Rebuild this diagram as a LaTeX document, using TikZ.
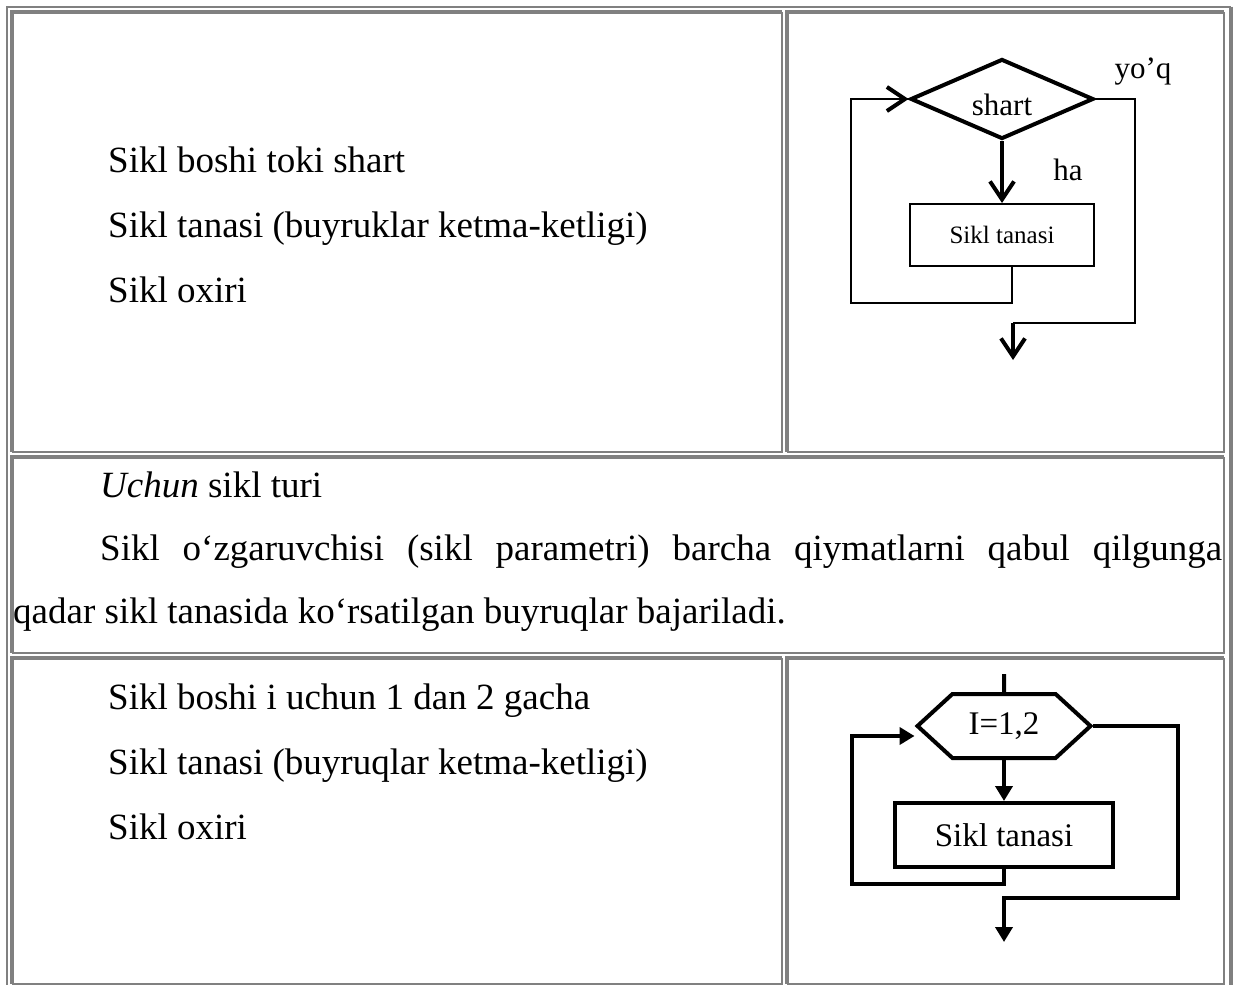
\documentclass[tikz,border=0pt]{standalone}
\usepackage{fontspec}
\setmainfont{Liberation Serif}
\usetikzlibrary{positioning, shapes.geometric, shapes.symbols, arrows.meta}

\definecolor{rulegray}{RGB}{128,128,128}

\begin{document}
\begin{tikzpicture}[x=1pt, y=-1pt,
    txt/.style={anchor=base west, inner sep=0, font=\fontsize{37}{44}\selectfont},
    lbl/.style={inner sep=0, font=\fontsize{31}{36}\selectfont},
    cond/.style={diamond, draw, line width=4pt, minimum width=183pt, minimum height=80pt, inner sep=0},
    smallbox/.style={rectangle, draw, line width=2pt, minimum width=184pt, minimum height=62pt, inner sep=0, font=\fontsize{25}{30}\selectfont},
    hexa/.style={signal, signal to=west and east, signal pointer angle=85, draw, line width=4pt, minimum width=173pt, minimum height=64pt, inner sep=0, font=\fontsize{33}{38}\selectfont},
    bigbox/.style={rectangle, draw, line width=4pt, minimum width=218pt, minimum height=64pt, inner sep=0, font=\fontsize{33}{38}\selectfont},
    thin line/.style={line width=2pt},
    thick line/.style={line width=4pt},
    barb/.style={-{Straight Barb[length=18pt, width=24pt, line width=4pt]}},
    tri/.style={-{Triangle[length=15pt, width=17pt]}}
]
    \useasboundingbox (0,0) rectangle (1234,985);

    % table frame
    \draw[rulegray, line width=2pt] (6.5,985) -- (6.5,6.5) -- (1231,6.5);
    \draw[rulegray, line width=4pt] (1230.5,6.5) -- (1230.5,985);

    % cells: dark top/left, thin bottom/right
    \foreach \xa/\ya/\xb/\yb in {12/12/782/452, 787/12/1224/452, 12/457/1224/653, 12/658/782/983.5, 787/658/1224/983.5} {
        \draw[rulegray, line width=4pt] (\xa,\yb) -- (\xa,\ya) -- (\xb,\ya);
        \draw[rulegray, line width=2pt] (\xb,\ya) -- (\xb,\yb) -- (\xa,\yb);
    }

    % while loop text
    \node[txt] (w1) at (108,172) {Sikl boshi toki shart};
    \node[txt] (w2) at (108,237) {Sikl tanasi (buyruklar ketma-ketligi)};
    \node[txt] (w3) at (108,302) {Sikl oxiri};

    % while loop chart
    \node[cond] (shart) at (1002,99) {};
    \node[lbl] (cond text) at ([yshift=-6pt]shart.center) {shart};
    \node[smallbox] (body) [below=62pt of shart] {Sikl tanasi};
    \node[lbl] (ha) at (1068,170) {ha};
    \node[lbl] (yoq) at (1143,72) {yo’q};
    \coordinate (loopA) at (851,303);
    \coordinate (exitA) at (1135,323);
    \coordinate (endA) at (1013,360);
    \draw[thick line, barb] (shart) -- (body);
    \draw[thin line] ([xshift=10pt]body.south) |- (loopA) |- (shart.west);
    \draw[barb] ([xshift=-30pt]shart.west) -- (shart.west);
    \draw[thin line] (shart.east) -| (exitA) -- (endA |- exitA);
    \draw[thick line, barb] (endA |- exitA) -- (endA);

    % for loop description
    \node[txt] (f1) at (100,497) {\textit{Uchun} sikl turi};
    \node[txt] (f2) at (100,560) {\makebox[1122pt][s]{Sikl o‘zgaruvchisi (sikl parametri) barcha qiymatlarni qabul qilgunga}};
    \node[txt] (f3) at (13,623) {qadar sikl tanasida ko‘rsatilgan buyruqlar bajariladi.};

    % for loop text
    \node[txt] (u1) at (108,709) {Sikl boshi i uchun 1 dan 2 gacha};
    \node[txt] (u2) at (108,774) {Sikl tanasi (buyruqlar ketma-ketligi)};
    \node[txt] (u3) at (108,839) {Sikl oxiri};

    % for loop chart
    \node[hexa] (range) at (1004,726) {I=1,2};
    \node[bigbox] (body2) [below=41pt of range] {Sikl tanasi};
    \coordinate (inB) at (1004,674);
    \coordinate (loopB) at (852,884);
    \coordinate (exitB) at (1178,898);
    \coordinate (endB) at (1004,942);
    \draw[thick line] (inB) -- (range);
    \draw[thick line, tri] (range) -- (body2);
    \draw[thick line, tri] (body2.south) |- (loopB) |- ([yshift=-10pt]range.west);
    \draw[thick line, tri] (range.east) -| (exitB) -| (endB);
\end{tikzpicture}
\end{document}
